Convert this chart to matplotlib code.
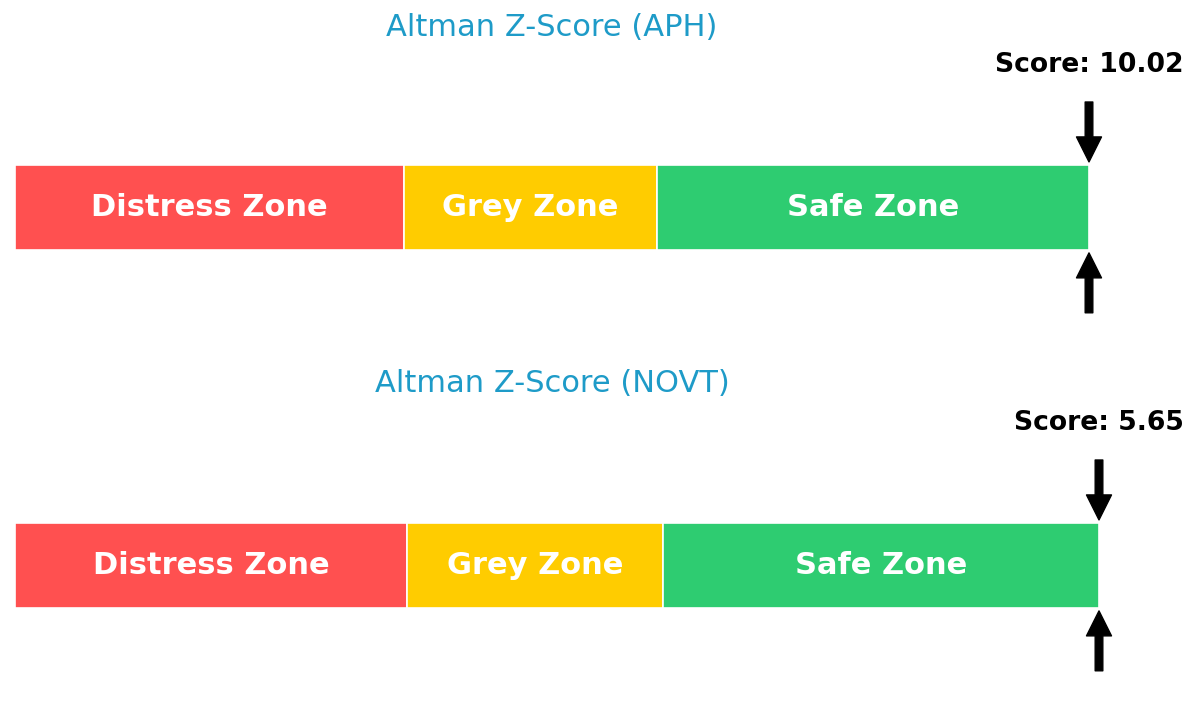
import numpy as np
from matplotlib import pyplot as plt

plt.rcParams['font.family'] = ['DejaVu Sans']

# Altman Z-score zones
tickers = ["APH", "NOVT"]
scores = [10.02, 5.65]
zone_names = ["Distress Zone", "Grey Zone", "Safe Zone"]
zone_edges = [0.0, 1.81, 2.99, 5.0]
zone_colors = ["#FF5050", "#FFCC00", "#2ECC71"]
title_color = "#1E9BC8"

fig = plt.figure(figsize=(12, 7.15), dpi=100)

# px per unit on x for each panel, and left edge of bar in px
px_per_unit = [214.8, 216.8]
left_px = 15
x_max = 5.5


def draw_panel(ax, ticker, score):
    cap = zone_edges[-1]
    for i, name in enumerate(zone_names):
        x0 = zone_edges[i]
        w = zone_edges[i + 1] - x0
        ax.barh(0, w, left=x0, height=1.0, color=zone_colors[i],
                edgecolor="white", linewidth=1.2)
        ax.text(x0 + w / 2, 0, name, ha="center", va="center",
                color="white", fontsize=22, fontweight="bold")
    pos = min(score, cap)
    arrow = dict(facecolor="black", edgecolor="black", width=5.5,
                 headwidth=18, headlength=18, shrink=0)
    ax.annotate("", xy=(pos, 0.535), xytext=(pos, 1.24), arrowprops=arrow)
    ax.annotate("", xy=(pos, -0.535), xytext=(pos, -1.24), arrowprops=arrow)
    ax.text(pos, 1.68, f"Score: {score:.2f}", ha="center", va="center",
            fontsize=19.2, fontweight="bold", color="black")
    ax.set_ylim(-1.76, 2.44)
    ax.set_xlim(0, x_max)
    ax.axis("off")


for k, (ticker, score) in enumerate(zip(tickers, scores)):
    bottom = 0.5007 if k == 0 else 0.0
    width = x_max * px_per_unit[k] / 1200
    ax = fig.add_axes([left_px / 1200, bottom, width, 0.4993])
    draw_panel(ax, ticker, score)
    title_y = (715 - 28 - 356 * k) / 715
    fig.text(552 / 1200, title_y, f"Altman Z-Score ({ticker})", ha="center",
             va="center", fontsize=22, color=title_color)

plt.savefig("out.png", dpi=100)
plt.close()
